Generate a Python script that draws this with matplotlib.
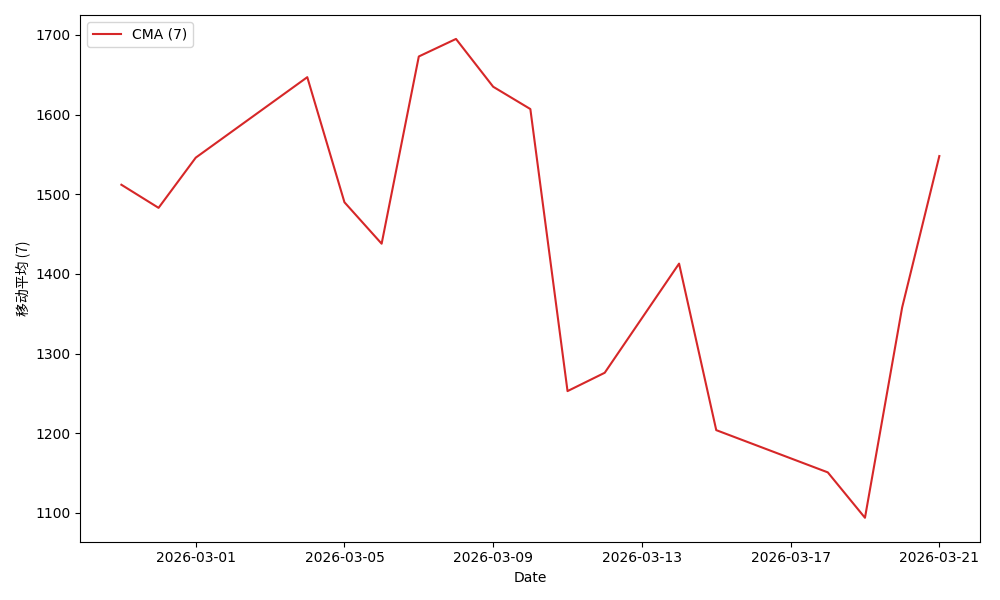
import matplotlib
matplotlib.use("Agg")
import matplotlib.pyplot as plt
import matplotlib.dates as mdates
import pandas as pd

dates = ["2026-02-27", "2026-02-28", "2026-03-01", "2026-03-04", "2026-03-05",
         "2026-03-06", "2026-03-07", "2026-03-08", "2026-03-09", "2026-03-10",
         "2026-03-11", "2026-03-12", "2026-03-14", "2026-03-15", "2026-03-18",
         "2026-03-19", "2026-03-20", "2026-03-21"]
cma_values = [1512, 1483, 1546, 1647, 1490, 1438, 1673, 1695, 1635, 1607,
              1253, 1276, 1413, 1204, 1151, 1094, 1358, 1548]

x = pd.to_datetime(dates)

fig, ax = plt.subplots(figsize=(10, 6), dpi=100)
ax.plot(x, cma_values, color="#d62728", linewidth=1.5, label="CMA (7)")
ax.set_xlabel("Date")
ax.set_ylabel("移动平均 (7)", family=["Noto Sans CJK SC", "DejaVu Sans"])
ax.xaxis.set_major_locator(mdates.DayLocator(bymonthday=[1, 5, 9, 13, 17, 21]))
ax.xaxis.set_major_formatter(mdates.DateFormatter("%Y-%m-%d"))
ax.legend(loc="upper left")
fig.tight_layout()
fig.savefig("out.png", dpi=100)
